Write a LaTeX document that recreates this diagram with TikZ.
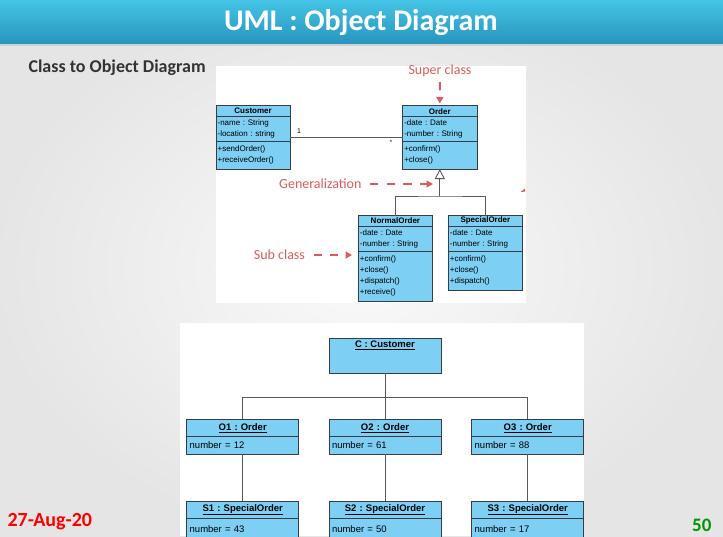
\documentclass[tikz,border=0pt]{standalone}
\usepackage{fontspec}
\newfontfamily\slidefont{Carlito}
\newfontfamily\umlfont{Liberation Sans}
\usetikzlibrary{arrows.meta,positioning}
\frenchspacing

\definecolor{umlblue}{RGB}{125,207,243}
\definecolor{umlline}{RGB}{55,60,70}
\definecolor{notered}{RGB}{222,92,88}
\definecolor{barhigh}{RGB}{68,196,230}
\definecolor{barlow}{RGB}{40,150,190}
\definecolor{pagegreen}{RGB}{0,150,0}

\tikzset{
  umlbox/.style={draw=umlline, line width=0.8pt, fill=umlblue, outer sep=0pt, inner xsep=1.6pt, inner ysep=1pt, text width=71pt, font=\umlfont\fontsize{8}{11}\selectfont},
  umlhead/.style={umlbox, align=center, font=\umlfont\fontsize{8}{11}\selectfont\bfseries},
  umlpart/.style={umlbox, align=left},
  objhead/.style={umlbox, text width=106pt, inner xsep=3pt, align=center, minimum height=17.4pt, font=\umlfont\fontsize{9.5}{11}\selectfont\bfseries},
  objpart/.style={umlbox, text width=106pt, inner xsep=3pt, align=left, minimum height=17.6pt, font=\umlfont\fontsize{9.5}{11}\selectfont},
  link/.style={draw=black!65, line width=0.9pt},
  note/.style={notered, font=\slidefont\fontsize{14}{16}\selectfont},
  notearrow/.style={notered, line width=2pt, dash pattern=on 8.3pt off 8.3pt, -{Triangle[length=6.5pt,width=7pt]}}
}

\begin{document}
\begin{tikzpicture}[x=1pt, y=-1pt]
    \useasboundingbox (0,0) rectangle (723,536);
    % Slide background and title bar
    \shade[inner color=gray!4, outer color=gray!20] (0,0) rectangle (723,536);
    \fill[black!18] (0,43) rectangle (723,46);
    \shade[top color=barhigh, bottom color=barlow] (0,0) rectangle (723,43);
    \node[white, font=\slidefont\fontsize{30}{32}\selectfont\bfseries] (title) at (361,22.5) {UML : Object Diagram};
    \node[black!80, anchor=west, font=\slidefont\fontsize{18}{20}\selectfont\bfseries] (subtitle) at (25,68) {Class to Object Diagram};

    % Class diagram
    \fill[white] (216,66) rectangle (526,303);
    \node[umlhead, minimum height=11pt, anchor=north west] (custhead) at (216,105.7) {Customer};
    \node[umlpart, minimum height=25pt, below=0pt of custhead] (custattr) {-name : String\\-location : string};
    \node[umlpart, minimum height=27.3pt, below=0pt of custattr] (custops) {+sendOrder()\\+receiveOrder()};

    \node[umlhead, minimum height=11pt, anchor=north west] (ordhead) at (402.7,105.7) {Order};
    \node[umlpart, minimum height=25pt, below=0pt of ordhead] (ordattr) {-date : Date\\-number : String};
    \node[umlpart, minimum height=27.3pt, below=0pt of ordattr] (ordops) {+confirm()\\+close()};

    \node[umlhead, minimum height=10.3pt, anchor=north west] (nohead) at (358.3,215.7) {NormalOrder};
    \node[umlpart, minimum height=25pt, below=0pt of nohead] (noattr) {-date : Date\\-number : String};
    \node[umlpart, minimum height=50pt, below=0pt of noattr] (noops) {+confirm()\\+close()\\+dispatch()\\+receive()};

    \node[umlhead, minimum height=10.3pt, anchor=north west] (sohead) at (448.3,215.7) {SpecialOrder};
    \node[umlpart, minimum height=25pt, below=0pt of sohead] (soattr) {-date : Date\\-number : String};
    \node[umlpart, minimum height=39.7pt, below=0pt of soattr] (soops) {+confirm()\\+close()\\+dispatch()};

    % Association with multiplicities
    \draw[link] ([yshift=-8pt]custattr.east) -- ([yshift=-8pt]ordattr.west);
    \node[font=\umlfont\fontsize{7}{8}\selectfont] (one) at (299,131) {1};
    \node[font=\umlfont\fontsize{6}{7}\selectfont] (many) at (391,142) {*};

    % Generalization
    \coordinate (genbar) at (439.8,196);
    \draw[link] (nohead.north) |- (genbar) -| (sohead.north);
    \draw[link, -{Triangle[open, length=10pt, width=10pt]}] (genbar) -- (ordops.south);

    % Red notes
    \node[note] (superlbl) at (440,70.5) {Super class};
    \draw[notearrow, shorten <=2pt, shorten >=2.2pt] (superlbl.south) -- (ordhead.north);
    \node[note, anchor=east] (genlbl) at (365,184) {Generalization};
    \coordinate (genpoint) at (433,184);
    \draw[notearrow, shorten <=5pt] (genlbl.east) -- (genpoint);
    \node[note, anchor=east] (sublbl) at (308.5,255) {Sub class};
    \coordinate (subpoint) at (352,255);
    \draw[notearrow, shorten <=5pt] (sublbl.east) -- (subpoint);
    \fill[notered] (520.5,192) -- (525,188.5) -- (525,191.5) -- cycle;

    % Object diagram
    \fill[white] (180,322.7) rectangle (584,536);
    \node[umlbox, text width=106pt, inner xsep=3pt, minimum height=35pt, anchor=north west] (cobj) at (329,338.3) {};
    \node[anchor=north, inner ysep=2.5pt, font=\umlfont\fontsize{9.5}{11}\selectfont\bfseries] (cname) at (cobj.north) {\underline{C : Customer}};

    \node[objhead, anchor=north west] (o1head) at (186.7,419.3) {\underline{O1 : Order}};
    \node[objpart, below=0pt of o1head] (o1body) {number = 12};
    \node[objhead, anchor=north west] (o2head) at (329,419.3) {\underline{O2 : Order}};
    \node[objpart, below=0pt of o2head] (o2body) {number = 61};
    \node[objhead, anchor=north west] (o3head) at (471.7,419.3) {\underline{O3 : Order}};
    \node[objpart, below=0pt of o3head] (o3body) {number = 88};

    \node[objhead, anchor=north west] (s1head) at (186.7,501) {\underline{S1 : SpecialOrder}};
    \node[objpart, minimum height=21pt, below=0pt of s1head] (s1body) {number = 43};
    \node[objhead, anchor=north west] (s2head) at (329,501) {\underline{S2 : SpecialOrder}};
    \node[objpart, minimum height=21pt, below=0pt of s2head] (s2body) {number = 50};
    \node[objhead, anchor=north west] (s3head) at (471.7,501) {\underline{S3 : SpecialOrder}};
    \node[objpart, minimum height=21pt, below=0pt of s3head] (s3body) {number = 17};

    % Links between objects
    \coordinate (objbar) at (385,397.3);
    \draw[link] (cobj.south) -- (o2head.north);
    \draw[link] (o1head.north) |- (objbar) -| (o3head.north);
    \draw[link] (o1body.south) -- (s1head.north);
    \draw[link] (o2body.south) -- (s2head.north);
    \draw[link] (o3body.south) -- (s3head.north);

    % Footer
    \node[red, anchor=west, font=\slidefont\fontsize{20}{22}\selectfont\bfseries] (date) at (4,522) {27-Aug-20};
    \node[pagegreen, anchor=east, font=\slidefont\fontsize{19}{22}\selectfont\bfseries] (page) at (715,525) {50};
\end{tikzpicture}
\end{document}
